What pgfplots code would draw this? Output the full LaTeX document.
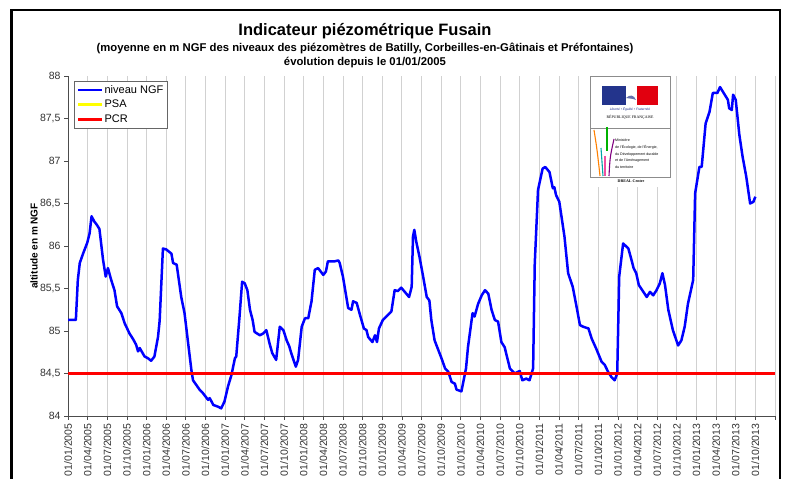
\documentclass[border=0pt]{standalone}
\usepackage{pgfplots}
\pgfplotsset{compat=1.18}
\usepackage{fontspec}
\setmainfont{Liberation Sans}
\newfontfamily\seriffont{Liberation Serif}
\definecolor{ngf}{RGB}{0,0,255}
\definecolor{pcr}{RGB}{255,0,0}
\definecolor{psa}{RGB}{255,255,0}
\definecolor{frblue}{RGB}{35,52,140}
\definecolor{frred}{RGB}{225,0,15}
\begin{document}
\begin{tikzpicture}[x=1pt,y=1pt]
\useasboundingbox (0,0) rectangle (787,479);
\begin{axis}[
  at={(68pt,63pt)}, anchor=south west,
  scale only axis, width=707pt, height=340pt,
  xmin=0, xmax=108, ymin=84, ymax=88,
  axis x line*=bottom, axis y line*=left,
  xtick={0,3,...,108},
  xticklabels={01/01/2005,01/04/2005,01/07/2005,01/10/2005,01/01/2006,01/04/2006,01/07/2006,01/10/2006,01/01/2007,01/04/2007,01/07/2007,01/10/2007,01/01/2008,01/04/2008,01/07/2008,01/10/2008,01/01/2009,01/04/2009,01/07/2009,01/10/2009,01/01/2010,01/04/2010,01/07/2010,01/10/2010,01/01/2011,01/04/2011,01/07/2011,01/10/2011,01/01/2012,01/04/2012,01/07/2012,01/10/2012,01/01/2013,01/04/2013,01/07/2013,01/10/2013,{}},
  ytick={84,84.5,...,88},
  /pgf/number format/use comma,
  /pgf/number format/assume math mode=true,
  x tick label style={rotate=90, anchor=east, font=\fontsize{10.5}{12}\selectfont, text=black!80},
  y tick label style={font=\fontsize{10.5}{12}\selectfont, text=black!80},
  xmajorgrids, grid style={draw=black!18, line width=0.8pt},
  tick align=outside, major tick length=4pt,
  tick style={black!70, line width=0.7pt},
  axis line style={black!70, line width=0.8pt},
  legend style={at={(0.0085,0.985)}, anchor=north west, draw=black!60, line width=0.6pt,
    font=\fontsize{11}{13}\selectfont, inner sep=2.5pt, row sep=3.2pt,
    nodes={inner sep=1.2pt}, cells={anchor=west}},
  legend image code/.code={\draw[#1, line width=2.6pt] (0pt,0pt) -- (24pt,0pt);},
]
\addplot[ngf, line width=2.5pt, line join=round] coordinates {
(0,85.13) (1.2,85.13) (1.5,85.60) (1.8,85.80) (2.3,85.91) (2.95,86.04) (3.3,86.15) (3.6,86.35) (4.0,86.29) (4.4,86.25) (4.8,86.20) (5.35,85.84) (5.76,85.64) (6.1,85.74) (6.6,85.60) (7.1,85.48) (7.5,85.29) (8.15,85.21) (8.66,85.09) (9.4,84.97) (9.9,84.91) (10.4,84.84) (10.7,84.76) (10.95,84.80) (11.7,84.70) (12.2,84.68) (12.7,84.65) (13.2,84.70) (13.75,84.93) (14.0,85.12) (14.5,85.97) (15.0,85.96) (15.8,85.91) (16.05,85.80) (16.6,85.78) (17.3,85.40) (17.8,85.21) (18.3,84.89) (18.85,84.54) (19.1,84.42) (20.1,84.31) (20.6,84.27) (21.4,84.19) (21.65,84.21) (22.2,84.13) (22.9,84.11) (23.4,84.09) (23.9,84.17) (24.45,84.35) (24.96,84.48) (25.5,84.68) (25.7,84.70) (26.2,85.17) (26.6,85.58) (27.0,85.56) (27.4,85.48) (27.8,85.25) (28.2,85.13) (28.5,84.99) (29.3,84.95) (29.8,84.97) (30.3,85.01) (30.8,84.85) (31.2,84.74) (31.8,84.66) (32.35,85.05) (32.9,85.01) (33.4,84.89) (33.8,84.82) (34.1,84.74) (34.8,84.58) (35.15,84.66) (35.7,85.05) (36.2,85.15) (36.7,85.15) (37.2,85.35) (37.7,85.72) (38.2,85.74) (39.0,85.66) (39.4,85.70) (39.7,85.82) (40.75,85.82) (41.3,85.83) (41.5,85.80) (42.0,85.64) (42.8,85.27) (43.3,85.25) (43.55,85.35) (44.1,85.33) (44.6,85.19) (45.2,85.03) (45.6,85.01) (45.85,84.93) (46.5,84.87) (46.9,84.95) (47.2,84.87) (47.5,85.03) (48.1,85.13) (48.9,85.19) (49.4,85.23) (49.9,85.48) (50.4,85.47) (50.9,85.51) (51.45,85.46) (52.1,85.40) (52.5,85.52) (52.7,86.11) (52.9,86.19) (53.2,86.05) (53.7,85.87) (54.25,85.64) (54.8,85.40) (55.2,85.36) (55.5,85.13) (56.0,84.89) (56.5,84.79) (57.05,84.68) (57.6,84.56) (58.1,84.52) (58.6,84.40) (59.1,84.38) (59.35,84.31) (60.1,84.29) (60.8,84.56) (61.1,84.81) (61.8,85.21) (62.1,85.17) (62.65,85.32) (63.2,85.42) (63.7,85.48) (64.2,85.44) (64.7,85.25) (65.2,85.13) (65.7,85.11) (66.2,84.87) (66.7,84.81) (67.5,84.56) (68.25,84.50) (69.0,84.53) (69.4,84.42) (70.0,84.44) (70.5,84.42) (71.05,84.56) (71.3,85.79) (71.8,86.66) (72.5,86.91) (72.9,86.93) (73.55,86.87) (74.06,86.68) (74.3,86.69) (74.55,86.60) (75.05,86.52) (75.84,86.11) (76.4,85.68) (77.1,85.52) (77.7,85.28) (78.2,85.07) (78.7,85.05) (79.5,85.03) (80.0,84.91) (80.7,84.79) (81.5,84.64) (82.0,84.60) (82.5,84.52) (83.0,84.46) (83.5,84.42) (83.9,84.50) (84.2,85.64) (84.8,86.03) (85.6,85.97) (86.1,85.83) (86.4,85.74) (86.8,85.68) (87.2,85.54) (87.9,85.46) (88.4,85.40) (88.9,85.46) (89.4,85.42) (89.9,85.48) (90.4,85.56) (90.8,85.68) (91.2,85.54) (91.7,85.25) (92.4,85.01) (93.2,84.83) (93.7,84.89) (94.2,85.05) (94.7,85.32) (95.5,85.60) (95.8,86.62) (96.45,86.93) (96.8,86.93) (97.4,87.44) (98.0,87.58) (98.5,87.80) (99.2,87.80) (99.6,87.87) (100.0,87.82) (100.8,87.72) (101.0,87.62) (101.4,87.60) (101.6,87.78) (102.0,87.72) (102.55,87.31) (103.05,87.05) (103.6,86.82) (104.2,86.50) (104.7,86.52) (105.0,86.58)
};
\addlegendentry{niveau NGF}
\addlegendimage{psa}
\addlegendentry{PSA}
\addplot[pcr, line width=2.6pt] coordinates {(0,84.5) (108,84.5)};
\addlegendentry{PCR}
\end{axis}
% titles
\node[font=\fontsize{16.5}{18}\selectfont\bfseries] at (365,448) {Indicateur piézométrique Fusain};
\node[font=\fontsize{11.3}{13}\selectfont\bfseries] at (365,430.7) {(moyenne en m NGF des niveaux des piézomètres de Batilly, Corbeilles-en-Gâtinais et Préfontaines)};
\node[font=\fontsize{11.3}{13}\selectfont\bfseries] at (365,416.3) {évolution depuis le 01/01/2005};
\node[rotate=90, font=\fontsize{10}{12}\selectfont\bfseries] at (34,233) {altitude en m NGF};
% logo
\fill[white] (588,292) rectangle (672,403.5);
\draw[black!45, line width=0.8pt] (590,302) rectangle (670,403);
\draw[black!45, line width=0.6pt] (590,351) -- (670,351);
\fill[frblue] (602,374) rectangle (626,393);
\fill[frred] (637,374) rectangle (658,393);
\fill[frblue!70] (626,381) .. controls (630,385) and (634,384) .. (636,379) .. controls (632,381) and (629,380) .. (626,381) -- cycle;
\node[font=\fontsize{3.3}{4}\selectfont\itshape, text=frblue] at (630,369.5) {Liberté • Égalité • Fraternité};
\node[font=\fontsize{3.9}{5}\selectfont\seriffont] at (630,362) {RÉPUBLIQUE FRANÇAISE};
\draw[orange, line width=1.1pt] (594,349) .. controls (597,330) .. (600,303);
\draw[teal!70!cyan, line width=1.1pt] (601,331) -- (603,303);
\draw[green!70!black, line width=1.1pt] (607,352) -- (607,328);
\draw[magenta!60!pink, line width=1.1pt] (605,323) -- (605,303);
\draw[violet, line width=1.1pt] (614,340) .. controls (610,322) .. (609,303);
\node[anchor=north west, font=\fontsize{3.6}{6.7}\selectfont, align=left, inner sep=0pt] at (615,340) {Ministère\\de l'Écologie, de l'Énergie,\\du Développement durable\\et de l'Aménagement\\du territoire};
\node[font=\fontsize{4}{5}\selectfont\bfseries\seriffont] at (631,297.5) {DREAL Centre};
% outer frame
\draw[line width=2.5pt] (11.5,-5) -- (11.5,469) -- (780,469) -- (780,-5);
\end{tikzpicture}
\end{document}
